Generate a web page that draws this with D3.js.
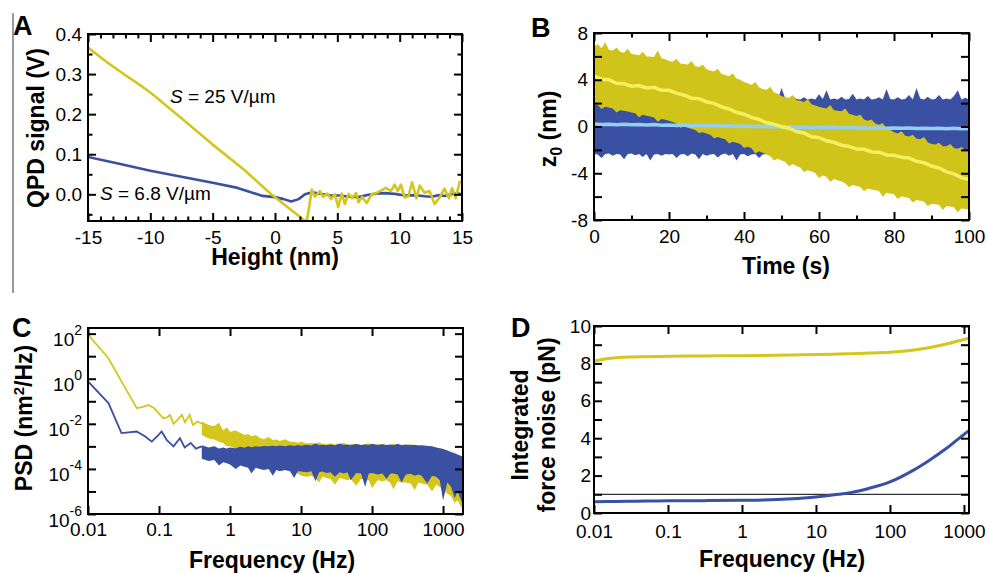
<!DOCTYPE html>
<html>
<head>
<meta charset="utf-8">
<script src="https://cdn.jsdelivr.net/npm/d3@7"></script>
<style>
body { margin: 0; background: #fff; }
text { font-family: "Liberation Sans", Arial, sans-serif; }
</style>
</head>
<body>
<script>
// ---- panel A: QPD signal vs height
var heightBlue = [-15, -12.5, -10, -7.5, -5, -3, -1, 0, 0.7, 1.3, 1.9, 2.4, 3.0, 3.5, 4.5, 5.2, 6, 6.7, 7.5, 8.2, 8.8, 9.6, 10.4, 11.2, 12, 12.5, 13.2, 13.6, 14.2, 14.7, 15];
var qpdBlue = [0.093, 0.076, 0.059, 0.044, 0.029, 0.016, -0.004, -0.007, -0.012, -0.018, -0.012, 0.0, 0.005, 0.002, -0.003, -0.003, -0.006, -0.007, -0.001, 0.002, 0.003, 0.001, -0.003, -0.002, -0.005, -0.006, -0.002, -0.004, 0.001, 0.002, -0.001];
var heightYellow = [-15, -13.5, -12, -11, -10, -7.5, -5, -2.5, -0.3, 2.4, 2.55, 2.75, 2.95, 3.2, 3.6, 3.85, 4.2, 4.5, 4.8, 5.07, 5.35, 5.6, 5.9, 6.2, 6.5, 6.7, 7.0, 7.35, 7.75, 8.1, 8.5, 8.9, 9.3, 9.6, 9.85, 10.1, 10.4, 10.7, 11.0, 11.35, 11.6, 12.0, 12.4, 12.8, 13.2, 13.6, 13.95, 14.2, 14.5, 14.8, 15];
var qpdYellow = [0.366, 0.33, 0.297, 0.276, 0.254, 0.19, 0.124, 0.062, 0.0, -0.066, -0.066, -0.03, 0.012, -0.006, 0.008, -0.006, 0.002, -0.012, 0.0, -0.032, 0.002, -0.024, 0.001, -0.01, 0.003, -0.02, -0.006, -0.022, 0.0, 0.003, 0.009, 0.016, 0.008, 0.024, 0.008, 0.024, -0.008, -0.005, 0.03, -0.01, 0.022, 0.004, 0.008, -0.024, -0.008, 0.014, -0.01, 0.015, -0.01, 0.03, 0.033];

// ---- panel B: z0 vs time (noise envelopes per second, running means every 2 s)
var timeBand = d3.range(0, 101, 1);
var timeMean = d3.range(0, 101, 2);
var yellowUpper = [6.8, 7.05, 6.7, 7.2, 6.55, 6.5, 6.75, 6.4, 6.3, 6.65, 6.2,
  6.15, 6.1, 6.4, 6.0, 6.0, 5.95, 6.5, 5.85, 5.75, 5.6,
  5.55, 5.8, 5.4, 5.35, 5.3, 5.6, 5.15, 5.1, 5.3, 4.9,
  4.8, 4.7, 4.95, 4.5, 4.4, 4.3, 4.55, 4.1, 4.0, 3.8,
  3.7, 3.55, 3.8, 3.35, 3.2, 3.15, 3.4, 2.9, 2.8, 2.6,
  2.5, 2.45, 2.7, 2.25, 2.2, 2.1, 2.35, 1.9, 1.8, 1.7,
  1.6, 1.55, 1.85, 1.4, 1.35, 1.3, 1.55, 1.1, 1.0, 0.9,
  1.0, 0.6, 0.5, 0.6, 0.25, 0.15, 0.3, -0.2, -0.3, -0.5,
  -0.6, -0.4, -0.8, -0.85, -0.7, -1.05, -1.1, -0.9, -1.35, -1.5,
  -1.55, -1.4, -1.7, -1.7, -1.5, -1.85, -1.9, -1.75, -2.05, -2.1];
var yellowLower = [1.9, 1.83, 1.5, 1.7, 1.62, 1.55, 1.2, 1.4, 1.35, 1.28, 1.2,
  1.13, 0.8, 1.0, 0.92, 0.85, 0.78, 0.4, 0.64, 0.57, 0.5,
  0.38, 0.26, -0.1, 0.02, -0.1, -0.2, -0.3, -0.55, -0.5, -0.6,
  -0.7, -1.0, -0.9, -1.0, -1.1, -1.45, -1.3, -1.4, -1.5, -1.85,
  -1.73, -1.86, -2.3, -2.12, -2.25, -2.38, -2.55, -2.9, -2.77, -2.9,
  -3.02, -3.4, -3.2, -3.38, -3.5, -3.9, -3.75, -3.86, -3.98, -4.4,
  -4.2, -4.3, -4.75, -4.5, -4.6, -4.7, -4.85, -5.2, -5.0, -5.1,
  -5.17, -5.55, -5.3, -5.38, -5.45, -5.52, -6.0, -5.66, -5.73, -5.8,
  -6.2, -5.96, -6.05, -6.12, -6.5, -6.28, -6.35, -6.44, -6.8, -6.6,
  -6.65, -6.7, -7.15, -6.8, -6.85, -6.9, -7.35, -7.0, -7.05, -7.1];
var blueUpper = [2.3, 2.35, 2.6, 2.3, 2.25, 2.4, 2.3, 2.8, 2.3, 2.35, 2.3,
  2.5, 2.3, 2.25, 2.35, 2.7, 2.3, 2.3, 2.45, 2.3, 2.35,
  2.3, 2.6, 2.3, 2.25, 2.3, 2.5, 2.3, 2.35, 2.7, 2.3,
  2.3, 2.45, 2.3, 2.35, 2.3, 2.65, 2.3, 2.3, 2.5, 2.35,
  2.3, 2.4, 2.3, 2.7, 2.3, 2.35, 2.5, 2.3, 2.3, 3.3,
  2.4, 2.3, 2.6, 2.35, 2.3, 2.5, 2.3, 2.4, 2.3, 2.75,
  2.35, 3.1, 2.3, 2.4, 2.3, 2.55, 2.3, 2.35, 2.8, 2.3,
  2.4, 2.3, 2.6, 2.3, 2.35, 2.5, 2.3, 3.2, 2.35, 2.3,
  2.5, 2.3, 2.35, 2.7, 2.3, 3.3, 2.4, 2.3, 2.55, 2.3,
  2.35, 2.7, 2.3, 2.4, 2.3, 2.6, 3.1, 2.3, 2.45, 2.3];
var blueLower = [-2.35, -2.4, -2.7, -2.35, -2.3, -2.5, -2.35, -2.4, -2.8, -2.35, -2.3,
  -2.45, -2.35, -2.6, -2.35, -2.9, -2.4, -2.35, -2.5, -2.35, -2.4,
  -2.35, -2.7, -2.4, -2.35, -2.55, -2.3, -2.4, -2.8, -2.35, -2.5,
  -2.4, -2.35, -2.65, -2.4, -2.3, -2.5, -2.35, -2.9, -2.4, -2.35,
  -2.55, -2.4, -2.35, -2.7, -2.4, -2.35, -2.5, -2.4, -2.35, -2.6,
  -2.4, -2.35, -2.5, -2.4, -2.35, -2.6, -2.4, -2.35, -2.5, -2.4,
  -2.35, -2.6, -2.4, -2.35, -2.5, -2.4, -2.35, -2.6, -2.4, -2.35,
  -2.5, -2.4, -2.35, -2.6, -2.4, -2.35, -2.5, -2.4, -2.35, -2.6,
  -2.4, -2.35, -2.5, -2.4, -2.35, -2.6, -2.4, -2.35, -2.5, -2.4,
  -2.35, -2.6, -2.4, -2.35, -2.5, -2.4, -2.35, -2.6, -2.4, -2.35];
var yellowMean = [4.3, 4.05, 4.0, 3.7, 3.65, 3.45, 3.5, 3.3, 3.35, 3.1, 3.1,
  2.85, 2.7, 2.42, 2.38, 2.12, 1.98, 1.68, 1.5, 1.22, 1.05,
  0.78, 0.6, 0.32, 0.2, -0.02, -0.15, -0.43, -0.55, -0.88, -0.95,
  -1.22, -1.35, -1.6, -1.7, -1.93, -1.95, -2.18, -2.2, -2.43, -2.45,
  -2.63, -2.7, -2.98, -3.1, -3.38, -3.55, -3.88, -4.05, -4.38, -4.55];
var blueMean = [0.22, 0.18, 0.2, 0.15, 0.19, 0.14, 0.17, 0.12, 0.16, 0.1, 0.13,
  0.09, 0.12, 0.07, 0.1, 0.05, 0.08, 0.03, 0.06, 0.01, 0.04,
  0.0, 0.02, -0.03, 0.0, -0.05, -0.02, -0.07, -0.04, -0.09, -0.06,
  -0.1, -0.07, -0.12, -0.09, -0.13, -0.1, -0.14, -0.11, -0.15, -0.12,
  -0.16, -0.13, -0.17, -0.14, -0.18, -0.15, -0.19, -0.16, -0.2, -0.18];

// ---- panel C: PSD (values as log10 of nm^2/Hz)
var freqYellowLine = [0.01, 0.0193, 0.03, 0.0485, 0.06, 0.0707, 0.085, 0.1, 0.115, 0.13, 0.143, 0.16, 0.185, 0.21, 0.232, 0.27, 0.3, 0.35, 0.4];
var logPsdYellowLine = [1.96, 0.92, -0.15, -1.3, -1.25, -1.16, -1.3, -1.55, -1.75, -1.72, -1.6, -2.0, -1.8, -1.6, -1.93, -1.6, -2.05, -1.9, -2.0];
var freqBlueLine = [0.01, 0.0194, 0.0296, 0.0485, 0.064, 0.079, 0.095, 0.109, 0.128, 0.16, 0.197, 0.23, 0.28, 0.33, 0.4];
var logPsdBlueLine = [-0.12, -1.08, -2.41, -2.34, -2.56, -2.79, -2.55, -2.34, -2.71, -3.0, -2.64, -3.05, -2.85, -3.1, -3.0];
var freqBand = [0.4, 0.5, 0.6, 0.7, 0.8, 0.9, 1, 1.2, 1.4, 1.6, 1.8, 2, 2.3, 2.6, 3, 3.5, 4, 4.5, 5, 6, 7, 8, 9, 10, 12, 14, 16, 18, 20, 23, 26, 30, 35, 40, 45, 50, 60, 70, 80, 90, 100, 120, 140, 160, 180, 200, 230, 260, 300, 350, 400, 450, 500, 600, 700, 800, 900, 1000, 1150, 1300, 1450, 1600, 1800, 2000];
var logYellowHi = [-1.9, -2.05, -2.1, -1.95, -2.3, -2.15, -2.35, -2.3, -2.4, -2.5, -2.45, -2.55, -2.5, -2.62, -2.68, -2.58, -2.72, -2.7, -2.76, -2.68, -2.8, -2.79, -2.84, -2.78, -2.87, -2.85, -2.88, -2.82, -2.9, -2.91, -2.86, -2.92, -2.9, -2.84, -2.93, -2.91, -2.88, -2.94, -2.9, -2.86, -2.93, -2.92, -2.89, -2.95, -2.93, -2.88, -2.95, -2.92, -2.96, -2.9, -2.97, -2.96, -3.0, -2.96, -3.04, -3.05, -3.08, -3.12, -3.18, -3.28, -3.33, -3.42, -3.52, -3.6];
var logYellowLo = [-2.5, -2.65, -2.7, -2.8, -2.85, -3.0, -3.0, -3.1, -3.2, -3.3, -3.35, -3.45, -3.5, -3.6, -3.7, -3.8, -3.9, -3.95, -4.0, -4.05, -4.1, -4.15, -4.2, -4.3, -4.35, -4.3, -4.4, -4.6, -4.35, -4.4, -4.45, -4.7, -4.4, -4.45, -4.5, -4.45, -4.75, -4.45, -4.5, -4.5, -4.85, -4.5, -4.55, -4.5, -4.6, -4.9, -4.55, -4.6, -4.6, -4.65, -4.95, -4.6, -4.65, -4.7, -5.0, -4.7, -4.8, -4.9, -5.1, -5.2, -5.5, -5.4, -5.7, -5.8];
var logBlueHi = [-2.95, -3.05, -3.0, -3.1, -3.05, -3.1, -3.05, -3.08, -3.02, -3.06, -3.0, -3.04, -2.99, -3.02, -2.98, -3.0, -2.97, -2.99, -2.96, -2.99, -2.95, -2.98, -2.94, -2.97, -2.93, -2.96, -2.86, -2.95, -2.93, -2.95, -2.92, -2.95, -2.87, -2.94, -2.92, -2.95, -2.9, -2.94, -2.92, -2.94, -2.88, -2.94, -2.91, -2.94, -2.92, -2.95, -2.88, -2.95, -2.92, -2.95, -2.93, -2.96, -2.95, -2.98, -3.0, -3.05, -3.08, -3.12, -3.18, -3.25, -3.3, -3.36, -3.43, -3.5];
var logBlueLo = [-3.55, -3.65, -3.6, -3.85, -3.7, -3.75, -3.8, -4.0, -3.85, -3.9, -3.95, -4.2, -3.95, -4.0, -4.05, -4.0, -4.3, -4.05, -4.1, -4.05, -4.1, -4.4, -4.1, -4.12, -4.15, -4.1, -4.55, -4.15, -4.12, -4.18, -4.15, -4.35, -4.15, -4.2, -4.15, -4.5, -4.18, -4.2, -4.8, -4.2, -4.18, -4.25, -4.2, -4.45, -4.22, -4.2, -4.25, -4.6, -4.25, -4.22, -4.3, -4.25, -4.3, -4.65, -4.3, -4.35, -4.5, -5.4, -4.6, -4.8, -5.3, -5.0, -5.4, -5.8];

// ---- panel D: integrated force noise
var freqForce = [0.01, 0.015, 0.02, 0.03, 0.05, 0.1, 0.3, 1, 3, 10, 20, 30, 50, 100, 200, 350, 600, 1000, 1170];
var forceYellow = [8.12, 8.25, 8.3, 8.34, 8.36, 8.38, 8.4, 8.41, 8.43, 8.47, 8.5, 8.52, 8.55, 8.6, 8.7, 8.85, 9.05, 9.28, 9.35];
var forceBlue = [0.6, 0.61, 0.62, 0.63, 0.64, 0.65, 0.66, 0.68, 0.72, 0.86, 1.0, 1.1, 1.3, 1.66, 2.25, 2.85, 3.5, 4.2, 4.4];
var forceLimit = 1;

var YEL = "#d4c61d", BAND_YEL = "#d0c41a", BLU = "#3a50a2", LBLU = "#93cff2", LYEL = "#f3ef5e";

var svg = d3.select("body").append("svg").attr("width", 988).attr("height", 573);

svg.append("line").attr("x1", 13).attr("x2", 13).attr("y1", 13).attr("y2", 293)
    .attr("stroke", "#9a9a9a").attr("stroke-width", 2);

function panel(id, left, top, w, h) {
    var g = svg.append("g").attr("transform", "translate(" + left + "," + top + ")");
    g.append("clipPath").attr("id", id).append("rect").attr("width", w).attr("height", h);
    g.plot = g.append("g").attr("clip-path", "url(#" + id + ")");
    return g;
}

// frame with inward ticks on all four sides
function axes(g, x, y, w, h, o) {
    function put(axis, tr) {
        return g.append("g").attr("transform", tr).call(axis).call(function (s) { s.select(".domain").remove(); });
    }
    put(d3.axisBottom(x).tickValues(o.xMajor).tickSize(-8).tickPadding(o.xPad).tickFormat(o.xFmt), "translate(0," + h + ")");
    put(d3.axisTop(x).tickValues(o.xMajor).tickSize(-8).tickFormat(""), "translate(0,0)");
    if (o.xMinor) {
        put(d3.axisBottom(x).tickValues(o.xMinor).tickSize(-4.5).tickFormat(""), "translate(0," + h + ")");
        put(d3.axisTop(x).tickValues(o.xMinor).tickSize(-4.5).tickFormat(""), "translate(0,0)");
    }
    var yl = put(d3.axisLeft(y).tickValues(o.yMajor).tickSize(-8).tickPadding(o.yPad).tickFormat(o.yFmt), "translate(0,0)");
    put(d3.axisRight(y).tickValues(o.yMajor).tickSize(-8).tickFormat(""), "translate(" + w + ",0)");
    if (o.yMinor) {
        put(d3.axisLeft(y).tickValues(o.yMinor).tickSize(-o.yMinorSize).tickFormat(""), "translate(0,0)");
        put(d3.axisRight(y).tickValues(o.yMinor).tickSize(-o.yMinorSize).tickFormat(""), "translate(" + w + ",0)");
    }
    g.append("rect").attr("width", w).attr("height", h)
        .attr("fill", "none").attr("stroke", "#000").attr("stroke-width", 2);
    g.selectAll(".tick line").attr("stroke", "#000").attr("stroke-width", 2);
    g.selectAll(".tick text").attr("font-size", 19).attr("fill", "#000");
    return yl;
}

function title(x, y, txt, rot) {
    return svg.append("text").attr("transform", "translate(" + x + "," + y + ")" + (rot ? " rotate(-90)" : ""))
        .attr("text-anchor", "middle").attr("font-size", 23).attr("font-weight", "bold").text(txt);
}
function letter(x, y, txt) {
    svg.append("text").attr("x", x).attr("y", y).attr("font-size", 27).attr("font-weight", "bold").text(txt);
}

// ================= A
(function () {
    var w = 374, h = 187, g = panel("clipA", 88, 34, w, h);
    var x = d3.scaleLinear().domain([-15, 15]).range([0, w]);
    var y = d3.scaleLinear().domain([-0.0666, 0.4]).range([h, 0]);
    var line = d3.line().x(function (d) { return x(d[0]); }).y(function (d) { return y(d[1]); });
    g.plot.append("path").datum(d3.zip(heightBlue, qpdBlue)).attr("d", line)
        .attr("fill", "none").attr("stroke", BLU).attr("stroke-width", 2.6).attr("stroke-linejoin", "round");
    g.plot.append("path").datum(d3.zip(heightYellow, qpdYellow)).attr("d", line)
        .attr("fill", "none").attr("stroke", YEL).attr("stroke-width", 2.6).attr("stroke-linejoin", "round");
    axes(g, x, y, w, h, {
        xMajor: [-15, -10, -5, 0, 5, 10, 15], xMinor: d3.range(-15, 16).filter(function (d) { return d % 5; }),
        xFmt: function (d) { return String(d); }, xPad: 10,
        yMajor: [0, 0.1, 0.2, 0.3, 0.4], yMinor: [-0.05, 0.05, 0.15, 0.25, 0.35], yMinorSize: 4.5,
        yFmt: d3.format(".1f"), yPad: 6
    });
    var t1 = svg.append("text").attr("x", 170).attr("y", 103).attr("font-size", 19);
    t1.append("tspan").attr("font-style", "italic").text("S");
    t1.append("tspan").text(" = 25 V/\u00b5m");
    var t2 = svg.append("text").attr("x", 100).attr("y", 200).attr("font-size", 19);
    t2.append("tspan").attr("font-style", "italic").text("S");
    t2.append("tspan").text(" = 6.8 V/\u00b5m");
    title(275, 265, "Height (nm)");
    title(44, 128, "QPD signal (V)", true);
    letter(13, 35, "A");
})();

// ================= B
(function () {
    var w = 375, h = 187, g = panel("clipB", 594, 33, w, h);
    var x = d3.scaleLinear().domain([0, 100]).range([0, w]);
    var y = d3.scaleLinear().domain([-8, 8]).range([h, 0]);
    var band = function (lo, hi) {
        return d3.area().x(function (d, i) { return x(timeBand[i]); })
            .y0(function (d, i) { return y(lo[i]); }).y1(function (d, i) { return y(hi[i]); });
    };
    var mean = d3.line().x(function (d, i) { return x(timeMean[i]); }).y(function (d) { return y(d); });
    g.plot.append("path").datum(timeBand).attr("d", band(blueLower, blueUpper)).attr("fill", BLU);
    g.plot.append("path").datum(timeBand).attr("d", band(yellowLower, yellowUpper)).attr("fill", BAND_YEL);
    g.plot.append("path").datum(blueMean).attr("d", mean).attr("fill", "none").attr("stroke", LBLU).attr("stroke-width", 3.5);
    g.plot.append("path").datum(yellowMean).attr("d", mean).attr("fill", "none").attr("stroke", LYEL).attr("stroke-width", 3.5);
    axes(g, x, y, w, h, {
        xMajor: [0, 20, 40, 60, 80, 100], xMinor: [10, 30, 50, 70, 90],
        xFmt: function (d) { return String(d); }, xPad: 10,
        yMajor: [-8, -4, 0, 4, 8], yMinor: [-6, -2, 2, 6], yMinorSize: 8,
        yFmt: function (d) { return String(d); }, yPad: 6
    });
    title(786, 274, "Time (s)");
    var t = svg.append("text").attr("transform", "translate(556,129) rotate(-90)")
        .attr("text-anchor", "middle").attr("font-size", 23).attr("font-weight", "bold");
    t.append("tspan").text("z");
    t.append("tspan").attr("font-size", 16).attr("dy", 6).text("0");
    t.append("tspan").attr("dy", -6).text(" (nm)");
    letter(531, 37, "B");
})();

// ================= C
(function () {
    var w = 375, h = 186, g = panel("clipC", 88, 328, w, h);
    var x = d3.scaleLog().domain([0.01, 1910]).range([0, w]);
    var y = d3.scaleLog().domain([1e-6, Math.pow(10, 2.25)]).range([h, 0]);
    var p = function (v) { return Math.pow(10, v); };
    var line = function (f) {
        return d3.line().x(function (d, i) { return x(f[i]); }).y(function (d) { return y(p(d)); });
    };
    var band = function (lo, hi) {
        return d3.area().x(function (d, i) { return x(freqBand[i]); })
            .y0(function (d, i) { return y(p(lo[i])); }).y1(function (d, i) { return y(p(hi[i])); });
    };
    g.plot.append("path").datum(freqBand).attr("d", band(logYellowLo, logYellowHi)).attr("fill", YEL);
    g.plot.append("path").datum(logPsdYellowLine).attr("d", line(freqYellowLine))
        .attr("fill", "none").attr("stroke", YEL).attr("stroke-width", 1.8);
    g.plot.append("path").datum(freqBand).attr("d", band(logBlueLo, logBlueHi)).attr("fill", BLU);
    g.plot.append("path").datum(logPsdBlueLine).attr("d", line(freqBlueLine))
        .attr("fill", "none").attr("stroke", BLU).attr("stroke-width", 1.8);
    var yl = axes(g, x, y, w, h, {
        xMajor: [0.01, 0.1, 1, 10, 100, 1000],
        xFmt: function (d) { return String(d); }, xPad: 9,
        yMajor: [1e-6, 1e-4, 1e-2, 1, 1e2], yMinor: [1e-5, 1e-3, 1e-1, 10], yMinorSize: 8,
        yFmt: function () { return ""; }, yPad: 6
    });
    yl.selectAll(".tick text").attr("dy", 12).each(function (d) {
        var s = d3.select(this);
        s.append("tspan").text("10");
        s.append("tspan").attr("font-size", 14).attr("dy", -11).text(String(Math.round(Math.log10(d))));
    });
    title(272, 568, "Frequency (Hz)");
    var t = svg.append("text").attr("transform", "translate(32,418) rotate(-90)")
        .attr("text-anchor", "middle").attr("font-size", 23).attr("font-weight", "bold");
    t.append("tspan").text("PSD (nm");
    t.append("tspan").attr("font-size", 15).attr("dy", -8).text("2");
    t.append("tspan").attr("dy", 8).text("/Hz)");
    letter(12, 337, "C");
})();

// ================= D
(function () {
    var w = 375, h = 187, g = panel("clipD", 594, 326, w, h);
    var x = d3.scaleLog().domain([0.01, 1170]).range([0, w]);
    var y = d3.scaleLinear().domain([0, 10]).range([h, 0]);
    var line = d3.line().curve(d3.curveMonotoneX)
        .x(function (d, i) { return x(freqForce[i]); }).y(function (d) { return y(d); });
    g.plot.append("line").attr("x1", 0).attr("x2", w).attr("y1", y(forceLimit)).attr("y2", y(forceLimit))
        .attr("stroke", "#000").attr("stroke-width", 1);
    g.plot.append("path").datum(forceYellow).attr("d", line).attr("fill", "none").attr("stroke", YEL).attr("stroke-width", 3);
    g.plot.append("path").datum(forceBlue).attr("d", line).attr("fill", "none").attr("stroke", BLU).attr("stroke-width", 3);
    axes(g, x, y, w, h, {
        xMajor: [0.01, 0.1, 1, 10, 100, 1000],
        xFmt: function (d) { return String(d); }, xPad: 12,
        yMajor: [0, 2, 4, 6, 8, 10], yMinor: [1, 3, 5, 7, 9], yMinorSize: 8,
        yFmt: function (d) { return String(d); }, yPad: 3
    });
    title(782, 567, "Frequency (Hz)");
    title(528, 425, "Integrated", true);
    title(555, 425, "force noise (pN)", true);
    letter(511, 337, "D");
})();
</script>
</body>
</html>
